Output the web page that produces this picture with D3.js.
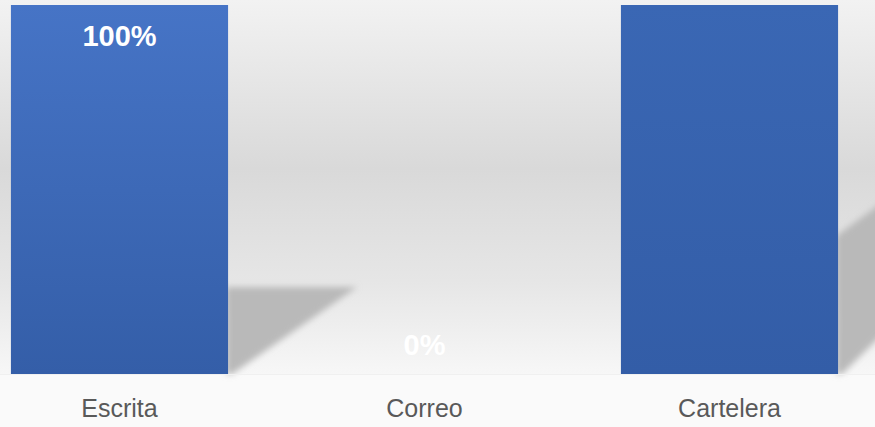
<!DOCTYPE html>
<html>
<head>
<meta charset="utf-8">
<script src="https://cdn.jsdelivr.net/npm/d3@7"></script>
<style>
  html, body { margin: 0; padding: 0; background: #fafafa; }
  svg { display: block; }
</style>
</head>
<body>
<svg id="chart" width="875" height="427"></svg>
<script>
const categories = ["Escrita", "Correo", "Cartelera"];
const values = [1.0, 0.0, 1.0];
const valueLabels = ["100%", "0%", ""];

const W = 875, H = 427;
const svg = d3.select("#chart");
const defs = svg.append("defs");

// background gradient
const bg = defs.append("linearGradient").attr("id", "bg").attr("x1", 0).attr("y1", 0).attr("x2", 0).attr("y2", 1);
bg.append("stop").attr("offset", "0").attr("stop-color", "#f2f2f2");
bg.append("stop").attr("offset", "0.45").attr("stop-color", "#d9d9d9");
bg.append("stop").attr("offset", "0.75").attr("stop-color", "#e6e6e6");
bg.append("stop").attr("offset", "1").attr("stop-color", "#f7f7f7");

const g1 = defs.append("linearGradient").attr("id", "bar0").attr("x1", 0).attr("y1", 0).attr("x2", 0).attr("y2", 1);
g1.append("stop").attr("offset", "0").attr("stop-color", "#4674c6");
g1.append("stop").attr("offset", "1").attr("stop-color", "#345ea8");
const g2 = defs.append("linearGradient").attr("id", "bar2").attr("x1", 0).attr("y1", 0).attr("x2", 0).attr("y2", 1);
g2.append("stop").attr("offset", "0").attr("stop-color", "#3a67b4");
g2.append("stop").attr("offset", "1").attr("stop-color", "#335da7");

const blur = defs.append("filter").attr("id", "blur").attr("x", "-20%").attr("y", "-20%").attr("width", "140%").attr("height", "140%");
blur.append("feGaussianBlur").attr("stdDeviation", 3);

const x = d3.scaleBand().domain(categories).range([-33, 882]).paddingInner(0.288).paddingOuter(0.144);
const y = d3.scaleLinear().domain([0, 1]).range([374, 5]);

svg.append("rect").attr("x", 0).attr("y", 0).attr("width", W).attr("height", H).attr("fill", "#fafafa");
svg.append("rect").attr("x", 0).attr("y", 0).attr("width", W).attr("height", y(0) + 1).attr("fill", "url(#bg)");

// perspective shadows
const bw = x.bandwidth();
const y0 = y(0);
const shadowPaths = [];
categories.forEach((c, i) => {
  if (values[i] <= 0) return;
  const rx = x(c) + bw;
  const h = y0 - y(values[i]);
  let pts;
  if (i === 0) {
    pts = [[rx - 2, y0 - h * 0.236], [rx + 129, y0 - h * 0.236], [rx + 4, y0], [rx - 2, y0]];
  } else {
    pts = [[rx - 2, y0 - h * 0.374], [rx + 60, y0 - h * 0.374 - 45], [rx + 60, y0 - 55], [rx + 4, y0], [rx - 2, y0]];
  }
  shadowPaths.push(pts);
});
svg.append("g").attr("filter", "url(#blur)")
  .selectAll("path").data(shadowPaths).join("path")
  .attr("d", d => "M" + d.map(p => p.join(",")).join("L") + "Z")
  .attr("fill", "#b9b9b9");

// bars
svg.append("g").selectAll("rect").data(categories).join("rect")
  .attr("x", d => x(d))
  .attr("width", bw)
  .attr("y", (d, i) => y(values[i]))
  .attr("height", (d, i) => y0 - y(values[i]))
  .attr("fill", (d, i) => i === 0 ? "url(#bar0)" : "url(#bar2)");

// baseline light line
svg.append("line").attr("x1", 0).attr("x2", W).attr("y1", y0 + 0.5).attr("y2", y0 + 0.5)
  .attr("stroke", "#f0f0f0").attr("stroke-width", 1);

// value labels
svg.append("g").selectAll("text").data(categories).join("text")
  .attr("x", d => x(d) + bw / 2)
  .attr("y", (d, i) => Math.min(y(values[i]) + 41, y0 - 19))
  .attr("text-anchor", "middle")
  .attr("font-family", "'Liberation Sans', Arial, sans-serif")
  .attr("font-weight", "bold")
  .attr("font-size", 29)
  .attr("fill", "#ffffff")
  .text((d, i) => valueLabels[i]);

// category axis labels
const axis = d3.axisBottom(x).tickSize(0).tickPadding(0);
const ax = svg.append("g").attr("transform", `translate(0,${y0})`).call(axis);
ax.select(".domain").remove();
ax.selectAll("text")
  .attr("dy", 0)
  .attr("y", 43)
  .attr("font-family", "'Liberation Sans', Arial, sans-serif")
  .attr("font-size", 25)
  .attr("fill", "#595959");
</script>
</body>
</html>
